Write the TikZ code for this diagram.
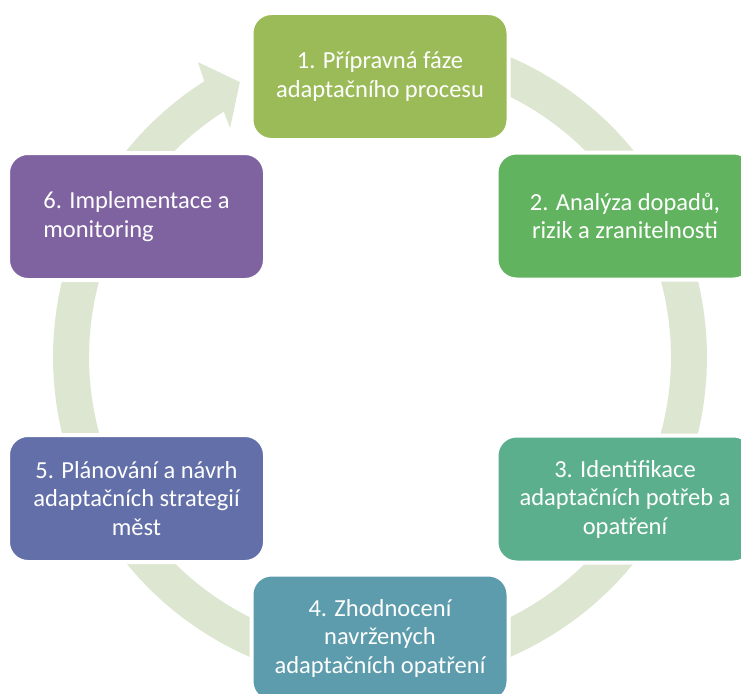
\documentclass[tikz,border=0pt]{standalone}
\usepackage{fontspec}
\setmainfont{Carlito}
\usetikzlibrary{shapes}
\definecolor{ringgreen}{HTML}{DDE6D1}
\definecolor{phaseA}{HTML}{9BBB59}
\definecolor{phaseB}{HTML}{62B35F}
\definecolor{phaseC}{HTML}{5BAF8C}
\definecolor{phaseD}{HTML}{5D9CAC}
\definecolor{phaseE}{HTML}{626FA8}
\definecolor{phaseF}{HTML}{7F63A1}
\tikzstyle{phase}=[rectangle,rounded corners=20pt,draw=white,line width=4pt,minimum width=257pt,minimum height=127pt,text=white,font=\fontsize{24.5}{28.5}\selectfont]
\tikzstyle{cycle ring}=[fill=ringgreen]

\begin{document}
\begin{tikzpicture}[x=1pt,y=-1pt]
    \useasboundingbox (0,0) rectangle (741,693);
    \clip (0,0) rectangle (741,693);
    % The big circular arrow behind the boxes
    \begin{scope}[shift={(380,357)}]
        \path[cycle ring] plot[domain=-80:237.5,samples=150] (\x:327)
            -- (238.3:346.6) -- (243:308.6) -- (236.8:273.7)
            -- plot[domain=237.5:-80,samples=150] (\x:291) -- cycle;
    \end{scope}
    % Then the six phases
    \foreach \pos/\name/\col/\al/\txt in {
        {(380,76.5)/faze1/phaseA/center/{1. Přípravná fáze\\adaptačního procesu}},
        {(625,216)/faze2/phaseB/center/{2. Analýza dopadů,\\rizik a zranitelnosti}},
        {(625,499)/faze3/phaseC/center/{3. Identifikace\\adaptačních potřeb a\\opatření}},
        {(380,638)/faze4/phaseD/center/{4. Zhodnocení\\navržených\\adaptačních opatření}},
        {(136.5,498.5)/faze5/phaseE/center/{5. Plánování a návrh\\adaptačních strategií\\měst}},
        {(136.5,216.5)/faze6/phaseF/left/{6. Implementace a\\monitoring}}}
        \node[phase,fill=\col,align=\al] (\name) at \pos {\txt};
\end{tikzpicture}
\end{document}
